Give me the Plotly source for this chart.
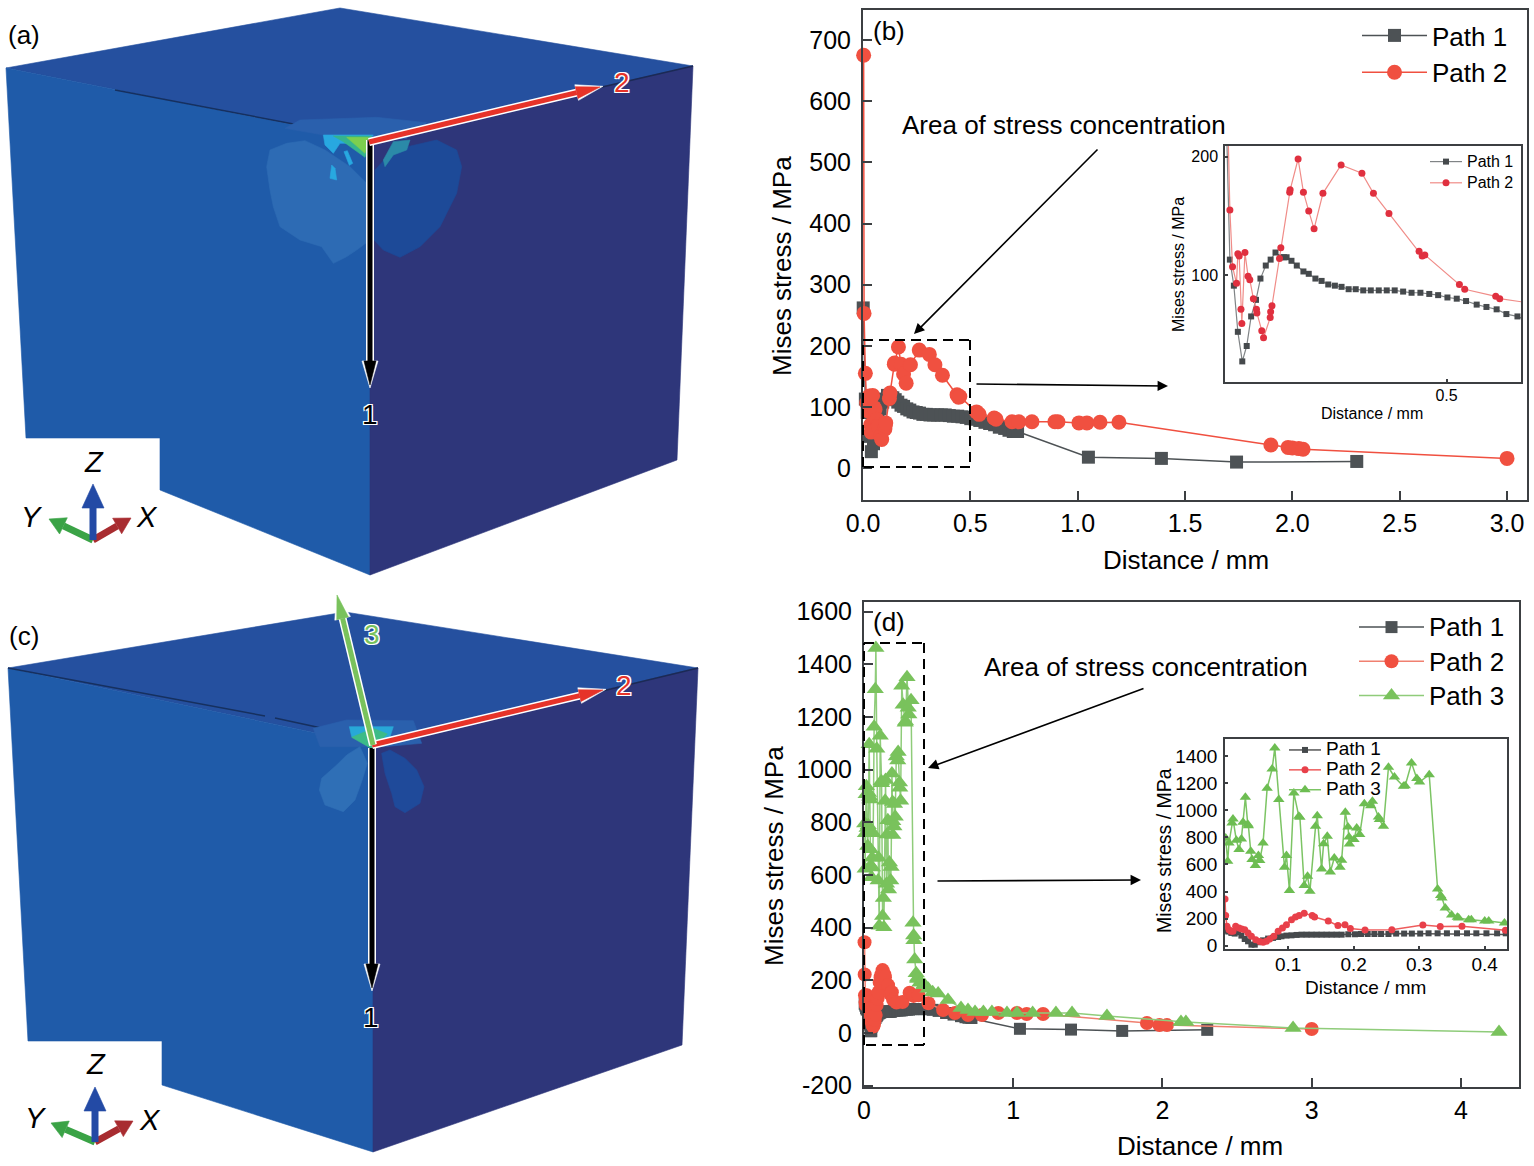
import plotly.graph_objects as go

W, H = 1534, 1166
FONT = "Liberation Sans"
GRAY = "#4d5255"
RED = "#f05040"
GREEN = "#79c25c"
INK = "#3c3f42"

# panel (b), near-tip readings shared by the main plot and the inset
b_p1_x = [0.001, 0.011, 0.020, 0.029, 0.039, 0.049, 0.059, 0.070, 0.080, 0.092, 0.103, 0.114, 0.126, 0.133,
          0.139, 0.150, 0.162, 0.177, 0.189, 0.204, 0.218, 0.233, 0.248, 0.263, 0.279, 0.295, 0.312, 0.329, 0.347,
          0.365, 0.383, 0.402, 0.421, 0.441, 0.461, 0.481, 0.502, 0.523, 0.544, 0.568, 0.590, 0.613, 0.635, 0.660,
          0.680, 0.700, 0.720, 1.050, 1.390, 1.740, 2.300]
b_p1_y = [262, 113, 91, 52, 27, 40, 65, 79, 97, 108, 113, 119, 115, 115, 115, 112, 108, 103, 101, 97, 95, 92, 91,
          90, 88, 88, 87, 87, 87, 87, 87, 86, 85, 85, 84, 83, 81, 80, 78, 75, 73, 71, 67, 65, 62, 60, 60, 18, 16, 10, 11]

b_p2_x = [0.003, 0.005, 0.011, 0.017, 0.026, 0.029, 0.032, 0.036, 0.038, 0.045, 0.052, 0.056, 0.064, 0.071, 0.072,
          0.083, 0.087, 0.102, 0.103, 0.106, 0.123, 0.126, 0.146, 0.147, 0.165, 0.177, 0.189, 0.201, 0.221, 0.262,
          0.309, 0.335, 0.370, 0.438, 0.445, 0.451, 0.529, 0.541, 0.611, 0.620, 0.694, 0.726, 0.787, 0.894, 0.908,
          1.006, 1.043, 1.104, 1.192, 1.900, 1.980, 2.000, 2.030, 2.050, 3.000]
b_p2_y = [675, 253, 155, 107, 93, 118, 116, 71, 59, 119, 99, 96, 80, 71, 68, 53, 47, 64, 69, 74, 114, 123, 170, 172,
          198, 170, 154, 139, 169, 193, 186, 169, 152, 120, 116, 117, 92, 88, 82, 80, 76, 76, 76, 76, 76, 74, 74, 75,
          75, 38, 34, 33, 32, 31, 16]

# panel (d)
d_p1_x = [0.0046, 0.0087, 0.0133, 0.0184, 0.0235, 0.0286, 0.0337, 0.0388, 0.0439, 0.049, 0.0541, 0.0617, 0.0694,
          0.077, 0.0847, 0.0898, 0.0974, 0.1051, 0.1128, 0.1204, 0.1281, 0.1357, 0.1434, 0.151, 0.1587, 0.1663, 0.174,
          0.1816, 0.1918, 0.202, 0.2112, 0.2214, 0.2316, 0.2418, 0.2531, 0.2648, 0.277, 0.2888, 0.3015, 0.3143,
          0.3281, 0.3423, 0.3577, 0.373, 0.3872, 0.4026, 0.4189, 0.4321, 0.46, 0.5, 0.55, 0.6, 0.65, 0.68, 0.70, 0.72,
          1.045, 1.387, 1.73, 2.30]
d_p1_y = [111, 104, 94, 89, 99, 74, 49, 32, 7, 7, 25, 39, 52, 57, 64, 69, 74, 76, 79, 81, 81, 81, 81, 81, 81, 81, 81,
          81, 84, 84, 86, 86, 86, 86, 86, 89, 89, 89, 89, 91, 91, 91, 91, 91, 91, 91, 91, 91, 88, 84, 76, 70, 64, 60,
          58, 57, 16, 13, 8, 12]

d_p2_x = [0.0036, 0.0046, 0.0066, 0.0097, 0.0128, 0.0158, 0.0199, 0.025, 0.0291, 0.0337, 0.0388, 0.0439, 0.0505,
          0.0566, 0.0617, 0.0668, 0.0719, 0.0781, 0.0847, 0.0913, 0.0974, 0.1051, 0.1112, 0.1168, 0.1245, 0.1367,
          0.1403, 0.1612, 0.176, 0.1867, 0.1949, 0.2173, 0.2582, 0.3056, 0.3321, 0.3653, 0.4316, 0.53, 0.61, 0.697,
          0.79, 0.90, 1.025, 1.09, 1.20, 1.896, 1.98, 2.03, 3.0]
d_p2_y = [345, 222, 143, 118, 106, 106, 143, 131, 123, 118, 94, 69, 44, 30, 25, 32, 49, 69, 106, 131, 155, 192, 212,
          222, 239, 222, 212, 182, 148, 155, 126, 116, 118, 153, 141, 143, 113, 87, 76, 68, 68, 76, 76, 72, 72, 38,
          30, 30, 15]

d_p3_x = [0.0046, 0.0077, 0.0097, 0.0143, 0.0158, 0.0209, 0.025, 0.0286, 0.0311, 0.0347, 0.0383, 0.0393, 0.0429,
          0.0449, 0.05, 0.0546, 0.0566, 0.0617, 0.0679, 0.0755, 0.0796, 0.0857, 0.0944, 0.0974, 0.102, 0.1087, 0.1163,
          0.1179, 0.1245, 0.1296, 0.1332, 0.1418, 0.1444, 0.151, 0.1541, 0.1597, 0.1643, 0.1704, 0.1791, 0.1816,
          0.1872, 0.1913, 0.1929, 0.1934, 0.2005, 0.2046, 0.2092, 0.2163, 0.226, 0.2286, 0.2378, 0.2393, 0.2454,
          0.2531, 0.2622, 0.276, 0.2786, 0.2883, 0.2964, 0.3005, 0.3153, 0.3281, 0.3327, 0.3347, 0.3398, 0.3495,
          0.3582, 0.3602, 0.3755, 0.3796, 0.4, 0.4061, 0.4301, 0.46, 0.497, 0.563, 0.65, 0.697, 0.744, 0.80, 0.857,
          0.958, 1.025, 1.13, 1.286, 1.394, 1.628, 2.124, 2.157, 2.875, 4.255]
d_p3_y = [796, 624, 759, 907, 937, 779, 710, 789, 912, 1097, 897, 887, 698, 636, 592, 666, 629, 759, 1163, 1306, 1462,
          1080, 579, 666, 407, 1129, 956, 949, 444, 513, 402, 882, 961, 567, 754, 808, 545, 648, 579, 631, 986, 877,
          804, 752, 784, 870, 821, 1050, 1035, 1067, 951, 932, 882, 1319, 1247, 1178, 1183, 1351, 1235, 1210, 1264,
          419, 370, 352, 279, 227, 210, 205, 192, 192, 182, 182, 168, 155, 150, 125, 95, 87, 80, 80, 80, 76, 76, 76,
          76, 76, 65, 42, 42, 19, 4]


def xp(v):
    return v / W


def yp(v):
    return 1 - v / H


def poly(pts, color):
    path = "M" + " L".join(f"{xp(a):.5f},{yp(b):.5f}" for a, b in pts) + " Z"
    return dict(type="path", xref="paper", yref="paper", path=path, fillcolor=color,
                line=dict(color=color, width=0.6))


def seg(a, b, color, width, dash="solid"):
    return dict(type="line", xref="paper", yref="paper", x0=xp(a[0]), y0=yp(a[1]), x1=xp(b[0]), y1=yp(b[1]),
                line=dict(color=color, width=width, dash=dash))


def zoomed(ox, oy, pts):
    return [(ox + a / 3, oy + b / 3) for a, b in pts]


def arrow(a, b, color, width=4, head=24, half=6, outline=True):
    dx, dy = b[0] - a[0], b[1] - a[1]
    n = (dx * dx + dy * dy) ** 0.5
    ux, uy = dx / n, dy / n
    base = (b[0] - ux * head, b[1] - uy * head)
    wing1 = (base[0] - uy * half, base[1] + ux * half)
    wing2 = (base[0] + uy * half, base[1] - ux * half)
    out = []
    if outline:
        out.append(seg(a, base, "white", width + 3))
        w1 = (base[0] - uy * (half + 2), base[1] + ux * (half + 2))
        w2 = (base[0] + uy * (half + 2), base[1] - ux * (half + 2))
        tip = (b[0] + ux * 3, b[1] + uy * 3)
        out.append(poly([w1, tip, w2], "white"))
    out.append(seg(a, base, color, width))
    out.append(poly([wing1, b, wing2], color))
    return out


def triad(o, z, x, y):
    out = []
    out += arrow(o, y, "#3aa346", width=7, head=16, half=9, outline=False)
    out += arrow(o, x, "#a82c30", width=7, head=16, half=9, outline=False)
    out += arrow(o, z, "#234aa5", width=7, head=24, half=11, outline=False)
    return out


TOP, LEFT, RIGHT = "#25509f", "#1f5ba9", "#2e367a"
shapes = []

# block (a)
shapes += [
    poly([(6, 68), (340, 8), (693, 66), (370, 140)], TOP),
    poly([(6, 68), (370, 140), (370, 575), (160, 490), (160, 438), (26, 438)], LEFT),
    poly([(370, 140), (693, 66), (677, 460), (370, 575)], RIGHT),
    seg((115, 90), (325, 130), "#16305f", 1.5),
    seg((520, 106), (693, 66), "#1b2a55", 1.5),
]
oa = (250, 100)
shapes += [
    poly(zoomed(*oa, [(105, 85), (150, 60), (380, 52), (530, 68), (470, 115), (360, 122), (220, 105)]), "#2a60ad"),
    poly(zoomed(*oa, [(50, 200), (60, 150), (110, 130), (165, 122), (225, 150), (300, 200), (350, 250), (360, 420),
                      (320, 450), (290, 470), (250, 490), (215, 440), (150, 420), (90, 380), (70, 320),
                      (60, 270)]), "#2d6bb4"),
    poly(zoomed(*oa, [(375, 210), (430, 150), (560, 120), (620, 150), (635, 200), (620, 280), (570, 380), (510, 440),
                      (450, 472), (400, 450), (372, 420)]), "#1d4a98"),
    poly(zoomed(*oa, [(400, 180), (430, 125), (480, 120), (470, 150), (430, 165), (405, 200)]), "#2b8aa8"),
    poly(zoomed(*oa, [(220, 105), (370, 105), (350, 130), (270, 130), (250, 160), (225, 135)]), "#28a8e0"),
    poly(zoomed(*oa, [(282, 155), (292, 152), (308, 190), (298, 196)]), "#28a8e0"),
    poly(zoomed(*oa, [(245, 195), (255, 205), (260, 240), (240, 235)]), "#28a8e0"),
    poly(zoomed(*oa, [(250, 108), (365, 108), (345, 172), (280, 125)]), "#35b48e"),
    poly(zoomed(*oa, [(290, 112), (355, 112), (345, 160)]), "#7ccf4e"),
]
shapes += arrow((370, 140), (370, 385), "black", width=5)
shapes += arrow((369, 142), (600, 87), "#e63329", width=5)
shapes += triad((93, 540), (93, 484), (131, 518), (49, 519))

# block (c)
shapes += [
    poly([(8, 668), (345, 612), (698, 668), (373, 745)], TOP),
    poly([(8, 668), (373, 745), (373, 1152), (162, 1085), (162, 1041), (28, 1041)], LEFT),
    poly([(373, 745), (698, 668), (682, 1045), (373, 1152)], RIGHT),
    seg((8, 668), (265, 716), "#16305f", 1.5),
    seg((275, 718), (340, 732), "#16305f", 1.5),
    seg((440, 730), (698, 668), "#1b2a55", 1.5),
]
oc = (280, 590)
shapes += [
    poly(zoomed(*oc, [(100, 415), (200, 390), (400, 392), (425, 460), (310, 470), (240, 470), (120, 470)]), "#2a60ad"),
    poly(zoomed(*oc, [(240, 470), (200, 495), (170, 525), (125, 565), (118, 600), (135, 645), (190, 665), (225, 630),
                      (245, 575), (262, 520)]), "#2f6fb6"),
    poly(zoomed(*oc, [(305, 490), (315, 550), (335, 610), (345, 650), (375, 668), (420, 640), (432, 590), (410, 540),
                      (375, 505), (330, 480)]), "#1f4a9a"),
    poly(zoomed(*oc, [(208, 410), (340, 410), (330, 440), (285, 470), (215, 440)]), "#28a8d8"),
    poly(zoomed(*oc, [(215, 442), (280, 415), (322, 432), (275, 476)]), "#3dbb88"),
]
shapes += arrow((372, 748), (372, 988), "black", width=5)
shapes += arrow((372, 745), (603, 690), "#e63329", width=5)
shapes += arrow((373, 745), (337, 595), GREEN, width=5)
shapes += triad((95, 1142), (95, 1087), (133, 1121), (51, 1123))

# dashed boxes round the stress concentration
for box in [(863, 340, 970, 467), (864, 643, 924, 1045)]:
    l, t, r, b = box
    shapes += [seg((l, t), (r, t), "black", 2, "10px,6px"), seg((r, t), (r, b), "black", 2, "10px,6px"),
               seg((r, b), (l, b), "black", 2, "10px,6px"), seg((l, b), (l, t), "black", 2, "10px,6px")]


def note(text, x, y, size=26, color="black", angle=0, **kw):
    return dict(text=text, xref="paper", yref="paper", x=xp(x), y=yp(y), showarrow=False, xanchor="center",
                yanchor="middle", textangle=angle, font=dict(family=FONT, size=size, color=color, **kw))


def pointer(tail, head):
    return dict(text="", xref="paper", yref="paper", x=xp(head[0]), y=yp(head[1]), axref="pixel", ayref="pixel",
                ax=tail[0] - head[0], ay=tail[1] - head[1], showarrow=True, arrowhead=2, arrowsize=1.3, arrowwidth=1.6,
                arrowcolor="black")


XT, YT = "Distance / mm", "Mises stress / MPa"
HALO = "-1.2px -1.2px 0 #fff, 1.2px -1.2px 0 #fff, -1.2px 1.2px 0 #fff, 1.2px 1.2px 0 #fff"
annotations = [
    note("(a)", 24, 35), note("(c)", 24, 636), note("(b)", 889, 31), note("(d)", 889, 622),
    note("Area of stress concentration", 1064, 125), note("Area of stress concentration", 1146, 667),
    note(XT, 1186, 560), note(YT, 782, 266, angle=-90), note(XT, 1200, 1146), note(YT, 774, 856, angle=-90),
    note(XT, 1372, 413, 16), note(YT, 1178, 265, 16, angle=-90), note(XT, 1365, 987, 19), note(YT, 1164, 851, 19.5, angle=-90),
    note("1", 370, 415, 28, "black", shadow=HALO), note("2", 622, 83, 28, "#e63329", shadow=HALO),
    note("1", 371, 1017, 28, "black", shadow=HALO), note("2", 624, 685, 28, "#e63329", shadow=HALO),
    note("3", 372, 634, 28, GREEN, shadow=HALO),
    note("Z", 94, 462, 29, style="italic"), note("Y", 32, 517, 29, style="italic"), note("X", 147, 517, 29, style="italic"),
    note("Z", 96, 1064, 29, style="italic"), note("Y", 36, 1118, 29, style="italic"), note("X", 150, 1120, 29, style="italic"),
    pointer((1099, 148), (914, 334)), pointer((975, 384), (1168, 386)),
    pointer((1145, 688), (928, 768)), pointer((936, 881), (1141, 880)),
]

fig = go.Figure()


def add(x, y, name, color, sym, size, line, xa, ya, legend, lw=1.5, clip=True):
    fig.add_trace(go.Scatter(x=x, y=y, name=name, mode="lines+markers", xaxis=xa, yaxis=ya, legend=legend,
                             cliponaxis=clip, line=dict(color=line, width=lw),
                             marker=dict(symbol=sym, size=size, color=color, line_width=0)))


def big(text, px):
    # row height follows the legend font, so the label size is set here
    return f'<span style="font-size:{px}px">{text}</span>'


add(b_p1_x, b_p1_y, "Path 1", GRAY, "square", 13, GRAY, "x", "y", "legend", clip=False)
add(b_p2_x, b_p2_y, "Path 2", RED, "circle", 15, RED, "x", "y", "legend", clip=False)
add(b_p1_x, b_p1_y, big("Path 1", 16), "#45494c", "square", 6, "#808486", "x2", "y2", "legend2", lw=1.2)
add(b_p2_x, b_p2_y, big("Path 2", 16), "#e0303f", "circle", 7, "#f08c88", "x2", "y2", "legend2", lw=1.2)
add(d_p1_x, d_p1_y, big("Path 1", 26), GRAY, "square", 12, GRAY, "x3", "y3", "legend3", clip=False)
add(d_p2_x, d_p2_y, big("Path 2", 26), RED, "circle", 14, "#f08070", "x3", "y3", "legend3", clip=False)
add(d_p3_x, d_p3_y, big("Path 3", 26), GREEN, "triangle-up", 15, "#8fcc7a", "x3", "y3", "legend3", clip=False)
add(d_p1_x, d_p1_y, big("Path 1", 19), "#45494c", "square", 6, "#555", "x4", "y4", "legend4", lw=1.5)
add(d_p2_x, d_p2_y, big("Path 2", 19), "#e8404a", "circle", 7, "#ee5c5c", "x4", "y4", "legend4", lw=1.5)
add(d_p3_x, d_p3_y, big("Path 3", 19), "#6dbd52", "triangle-up", 10, "#7cc464", "x4", "y4", "legend4", lw=1.5)


def axis(dom, rng, vals, text, size, anchor, lw=2, tick=9, off=0):
    return dict(domain=dom, range=rng, tickmode="array", tickvals=vals, ticktext=text, anchor=anchor,
                ticks="inside", ticklen=tick, tickwidth=lw, tickcolor=INK, showline=True, linecolor=INK, linewidth=lw,
                mirror=True, showgrid=False, zeroline=False, automargin=False, ticklabelstandoff=off,
                tickfont=dict(family=FONT, size=size, color="black"))


def xdom(box):
    return [xp(box[0]), xp(box[2])]


def ydom(box):
    return [yp(box[3]), yp(box[1])]


BOX_B, BOX_BI = (863, 10, 1527, 500), (1225, 146, 1521, 382)
BOX_D, BOX_DI = (864, 602, 1519, 1087), (1225, 739, 1507, 949)


def legend_at(x, y, size, width):
    return dict(x=xp(x), y=yp(y), xanchor="left", yanchor="top", bgcolor="rgba(0,0,0,0)", borderwidth=0, itemwidth=width,
                font=dict(family=FONT, size=size, color="black"))


main_x_b = [0, 0.5, 1, 1.5, 2, 2.5, 3]
main_y_b = [0, 100, 200, 300, 400, 500, 600, 700]
main_x_d = [0, 1, 2, 3, 4]
main_y_d = [-200, 0, 200, 400, 600, 800, 1000, 1200, 1400, 1600]
inset_x_d = [0.1, 0.2, 0.3, 0.4]
inset_y_d = [0, 200, 400, 600, 800, 1000, 1200, 1400]

fig.update_layout(
    width=W, height=H, margin=dict(l=0, r=0, t=0, b=0), paper_bgcolor="white", plot_bgcolor="white",
    shapes=shapes, annotations=annotations,
    xaxis=axis(xdom(BOX_B), [0, 3.093], main_x_b, [f"{v:.1f}" for v in main_x_b], 25, "y"),
    yaxis=axis(ydom(BOX_B), [-52, 749], main_y_b, [str(v) for v in main_y_b], 25, "x", off=5),
    xaxis2=axis(xdom(BOX_BI), [0, 0.668], [0.5], ["0.5"], 16, "y2", lw=1.5, tick=3, off=-2),
    yaxis2=axis(ydom(BOX_BI), [9.6, 209], [100, 200], ["100", "200"], 16, "x2", lw=1.5, tick=3, off=2),
    xaxis3=axis(xdom(BOX_D), [0, 4.389], main_x_d, [str(v) for v in main_x_d], 25, "y3"),
    yaxis3=axis(ydom(BOX_D), [-205, 1637], main_y_d, [str(v) for v in main_y_d], 25, "x3", off=5),
    xaxis4=axis(xdom(BOX_DI), [0.0036, 0.434], inset_x_d, [str(v) for v in inset_x_d], 19, "y4", lw=1.5, tick=3, off=-3),
    yaxis4=axis(ydom(BOX_DI), [-25, 1528], inset_y_d, [str(v) for v in inset_y_d], 19, "x4", lw=1.5, tick=3, off=2),
    legend=legend_at(1357, 12, 26, 65),
    legend2=legend_at(1425, 146, 14, 32),
    legend3=legend_at(1354, 605, 24, 65),
    legend4=legend_at(1284, 735, 13, 32),
    showlegend=True,
)

fig.write_html("out.html", config={"displayModeBar": False}, post_script="document.body.style.margin = '0';")
